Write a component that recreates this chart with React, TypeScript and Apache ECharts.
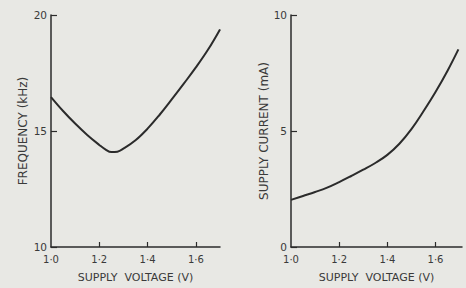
import React, { useEffect, useRef } from "react";
import * as echarts from "echarts";

const voltageFreq = [1.0, 1.05, 1.1, 1.15, 1.2, 1.225, 1.25, 1.275, 1.3, 1.35, 1.4, 1.45, 1.5, 1.55, 1.6, 1.65, 1.7];
const frequencyKHz = [16.46, 15.86, 15.32, 14.83, 14.4, 14.21, 14.09, 14.11, 14.24, 14.6, 15.1, 15.7, 16.36, 17.04, 17.74, 18.5, 19.38];

const voltageCurr = [1.0, 1.05, 1.1, 1.15, 1.2, 1.25, 1.3, 1.35, 1.4, 1.45, 1.5, 1.55, 1.6, 1.65, 1.695];
const currentMA = [2.03, 2.2, 2.37, 2.56, 2.8, 3.06, 3.33, 3.62, 3.97, 4.45, 5.08, 5.85, 6.68, 7.6, 8.52];

const xTicks = [1.2, 1.4, 1.6];
const xLabels = [1.0, 1.2, 1.4, 1.6];
const freqTicks = [10, 15, 20];
const currTicks = [0, 5, 10];

const FONT = "'DejaVu Sans', Verdana, sans-serif";
const INK = "#2b2b2b";
const TXT = "#3a3a3a";

export default function App() {
  const ref = useRef<HTMLDivElement>(null);
  useEffect(() => {
    if (!ref.current) return;
    const chart = echarts.init(ref.current, null, { renderer: "svg" });
    const fmtX = (v: number) => v.toFixed(1).replace(".", "\u00B7");
    const xAxisBase = (gridIndex: number, max: number) => ({
      type: "value",
      gridIndex,
      min: 1.0,
      max,
      interval: 0.2,
      name: "SUPPLY  VOLTAGE (V)",
      nameLocation: "middle",
      nameGap: 25,
      nameTextStyle: { color: TXT, fontSize: 11, fontFamily: FONT },
      axisLine: { show: true, onZero: false, lineStyle: { color: INK, width: 1.5 } },
      axisTick: { show: true, inside: true, length: 5, customValues: xTicks, lineStyle: { color: INK, width: 1.2 } },
      axisLabel: { customValues: xLabels, formatter: fmtX, color: TXT, fontSize: 10, fontFamily: FONT, margin: 7 },
      splitLine: { show: false },
    });
    const yAxisBase = (gridIndex: number, min: number, max: number, name: string, ticks: number[], gap: number) => ({
      type: "value",
      gridIndex,
      min,
      max,
      interval: 5,
      name,
      nameLocation: "middle",
      nameRotate: 90,
      nameGap: gap,
      nameTextStyle: { color: TXT, fontSize: 12, fontFamily: FONT },
      axisLine: { show: true, onZero: false, lineStyle: { color: INK, width: 1.5 } },
      axisTick: { show: true, inside: true, length: 6, customValues: ticks, lineStyle: { color: INK, width: 1.2 } },
      axisLabel: { customValues: ticks, color: TXT, fontSize: 10.5, fontFamily: FONT, margin: 4 },
      splitLine: { show: false },
    });
    chart.setOption({
      animation: false,
      backgroundColor: "#e8e8e4",
      grid: [
        { left: 51, top: 15, width: 169, height: 235 },
        { left: 291, top: 15, width: 171, height: 236 },
      ],
      xAxis: [xAxisBase(0, 1.7), xAxisBase(1, 1.71)],
      yAxis: [
        yAxisBase(0, 10, 20, "FREQUENCY (kHz)", freqTicks, 22),
        yAxisBase(1, 0, 10, "SUPPLY CURRENT (mA)", currTicks, 19),
      ],
      series: [
        {
          type: "line",
          xAxisIndex: 0,
          yAxisIndex: 0,
          smooth: 0.4,
          showSymbol: false,
          lineStyle: { color: INK, width: 2 },
          data: voltageFreq.map((v, i) => [v, frequencyKHz[i]]),
        },
        {
          type: "line",
          xAxisIndex: 1,
          yAxisIndex: 1,
          smooth: 0.4,
          showSymbol: false,
          lineStyle: { color: INK, width: 2 },
          data: voltageCurr.map((v, i) => [v, currentMA[i]]),
        },
      ],
    });
    return () => chart.dispose();
  }, []);
  return (
    <div
      ref={ref}
      style={{ position: "absolute", left: 0, top: 0, width: 466, height: 288 }}
    />
  );
}
